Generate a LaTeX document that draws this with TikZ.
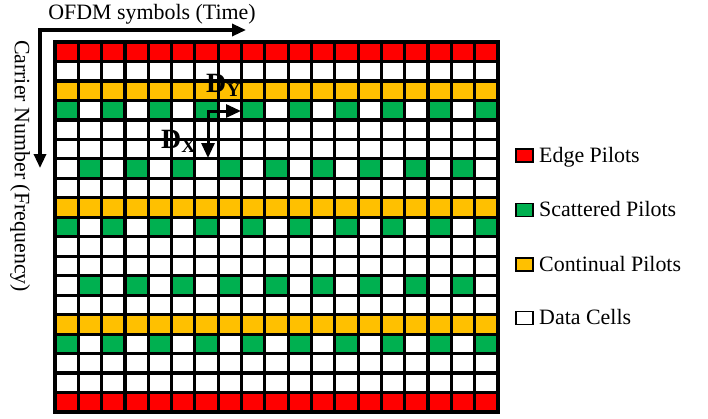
\documentclass[tikz,border=0pt]{standalone}
\usepackage{fontspec}
\setmainfont{Liberation Serif}
\usetikzlibrary{arrows.meta,positioning}
\definecolor{edgered}{RGB}{255,0,0}
\definecolor{scatgreen}{RGB}{0,176,80}
\definecolor{contorange}{RGB}{255,192,0}

\begin{document}
\begin{tikzpicture}[x=1bp,y=-1bp,font=\fontsize{22}{26}\selectfont,
  gridline/.style={line width=3.2bp},
  axisarrow/.style={line width=3.2bp,{Triangle[length=14bp,width=12bp]}-{Triangle[length=14bp,width=12bp]}},
  legbox/.style={draw,line width=1.5bp,minimum width=17bp,minimum height=13bp,inner sep=0pt},
  legtext/.style={anchor=base west,inner sep=0pt}]
  \useasboundingbox (0,0) rectangle (708,418);
  \def\cw{23.316}
  \def\ch{19.474}
  % edge and continual pilot rows
  \foreach \r/\col in {0/edgered,18/edgered,2/contorange,8/contorange,14/contorange}
    {\fill[\col] (55,{42+\r*\ch}) rectangle ++(443,\ch);}
  % scattered pilots
  \foreach \r in {3,9,15}
    \foreach \c in {0,2,...,18}
      {\fill[scatgreen] ({55+\c*\cw},{42+\r*\ch}) rectangle ++(\cw,\ch);}
  \foreach \r in {6,12}
    \foreach \c in {1,3,...,17}
      {\fill[scatgreen] ({55+\c*\cw},{42+\r*\ch}) rectangle ++(\cw,\ch);}
  % grid
  \foreach \i in {1,...,18}
    {\draw[gridline] ({55+\i*\cw},42) -- ({55+\i*\cw},412);
     \draw[gridline] (55,{42+\i*\ch}) -- (498,{42+\i*\ch});}
  \draw[gridline] (55,42) rectangle (498,412);
  % axes
  \coordinate (origin) at (40,30);
  \coordinate (timeend) at (246,30);
  \coordinate (freqend) at (40,168);
  \draw[axisarrow] (freqend) -- (origin) -- (timeend);
  \node (timelabel) at (152,14) {OFDM symbols (Time)};
  \node[rotate=-90] (freqlabel) at (20,166) {Carrier Number (Frequency)};
  % pilot spacing
  \coordinate (dcorner) at (208,111);
  \coordinate (dxend) at (208,158);
  \coordinate (dyend) at (241,111);
  \draw[line width=3bp,{Triangle[length=15bp,width=13bp]}-{Triangle[length=15bp,width=13bp]}]
    (dxend) -- (dcorner) -- (dyend);
  \node[legtext,font=\fontsize{28}{30}\selectfont\bfseries] (dylabel) at (206,92) {D\textsubscript{Y}};
  \node[legtext,font=\fontsize{28}{30}\selectfont\bfseries] (dxlabel) at (161,148) {D\textsubscript{X}};
  % legend
  \foreach \y/\col/\txt/\nm in {155.5/edgered/Edge Pilots/edge,
                               210/scatgreen/Scattered Pilots/scat,
                               264.7/contorange/Continual Pilots/cont,
                               318/white/Data Cells/data}
    {\node[legbox,fill=\col] (\nm box) at (524.5,\y) {};
     \node[legtext] (\nm text) at (539,\y+6.5) {\txt};}
\end{tikzpicture}
\end{document}
